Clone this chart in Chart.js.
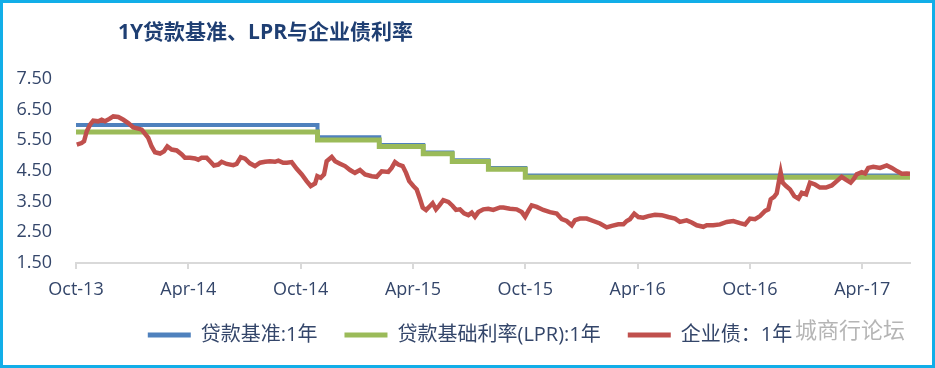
<!DOCTYPE html>
<html>
<head>
<meta charset="utf-8">
<script src="https://cdn.jsdelivr.net/npm/chart.js@4.4.1/dist/chart.umd.min.js"></script>
<style>
  html, body { margin: 0; padding: 0; background: #fff; }
  #wrap { position: relative; width: 935px; height: 368px; }
  #frame { position: absolute; left: 0; top: 0; right: 0; bottom: 0; border: 3px solid #12aee8; box-sizing: border-box; pointer-events: none; }
</style>
</head>
<body>
<div id="wrap">
  <canvas id="chart"></canvas>
  <div id="frame"></div>
</div>
<script>
// x values are months counted from the Oct-13 start of the axis
const tickLabels = ["Oct-13", "Apr-14", "Oct-14", "Apr-15", "Oct-15", "Apr-16", "Oct-16", "Apr-17"];

const stepMonths = [0, 12.9, 16.2, 18.55, 20.1, 22.03, 24.0, 44.55];
const benchmarkRate = [6.00, 5.60, 5.35, 5.10, 4.85, 4.60, 4.35, 4.35];
const lprRate = [5.77, 5.51, 5.30, 5.06, 4.81, 4.56, 4.30, 4.30];

const bondMonths = [0.04,0.30,0.43,0.57,0.75,0.92,1.19,1.37,1.55,1.78,
  1.99,2.26,2.53,2.79,3.06,3.33,3.51,3.69,3.86,4.04,
  4.22,4.49,4.70,4.88,5.11,5.38,5.65,5.82,6.09,6.36,
  6.53,6.71,6.98,7.16,7.37,7.60,7.78,8.05,8.40,8.58,
  8.80,9.03,9.29,9.56,9.83,10.10,10.36,10.63,10.81,11.07,
  11.26,11.52,11.79,12.06,12.32,12.54,12.77,12.89,13.07,13.25,
  13.39,13.66,13.84,14.10,14.37,14.64,14.90,15.17,15.44,15.80,
  16.06,16.33,16.68,16.86,17.04,17.22,17.45,17.63,17.80,18.02,
  18.20,18.38,18.52,18.70,18.91,19.05,19.23,19.41,19.62,19.89,
  20.12,20.30,20.51,20.73,20.96,21.14,21.31,21.49,21.76,22.02,
  22.29,22.65,22.83,23.18,23.54,23.81,23.99,24.16,24.34,24.61,
  24.96,25.32,25.68,25.95,26.21,26.48,26.66,26.92,27.28,27.63,
  27.99,28.35,28.62,28.97,29.24,29.42,29.59,29.82,30.04,30.30,
  30.57,30.93,31.29,31.64,32.00,32.26,32.62,32.89,33.16,33.51,
  33.69,34.04,34.40,34.76,35.11,35.47,35.74,36.00,36.27,36.54,
  36.81,36.98,37.11,37.29,37.43,37.55,37.64,37.75,37.93,38.14,
  38.37,38.59,38.77,39.00,39.21,39.48,39.74,40.06,40.37,40.64,
  40.90,41.12,41.38,41.56,41.70,41.97,42.15,42.32,42.59,42.95,
  43.31,43.58,43.87,44.11,44.38,44.55];

const bondYield = [5.36,5.41,5.47,5.79,6.01,6.14,6.12,6.17,6.12,6.20,
  6.28,6.26,6.17,6.06,5.92,5.88,5.85,5.71,5.58,5.30,
  5.11,5.07,5.14,5.30,5.20,5.17,5.04,4.93,4.93,4.91,
  4.87,4.93,4.93,4.82,4.68,4.71,4.80,4.73,4.69,4.73,
  4.95,4.90,4.75,4.66,4.77,4.80,4.82,4.80,4.84,4.77,
  4.77,4.79,4.57,4.39,4.17,4.01,4.09,4.33,4.28,4.39,
  4.82,4.96,4.82,4.74,4.66,4.53,4.44,4.53,4.39,4.33,
  4.31,4.49,4.47,4.60,4.79,4.71,4.66,4.44,4.17,4.01,
  3.90,3.58,3.31,3.23,3.36,3.45,3.25,3.38,3.55,3.49,
  3.36,3.23,3.25,3.12,3.06,3.14,3.01,3.16,3.25,3.27,
  3.23,3.31,3.31,3.27,3.25,3.16,3.01,3.20,3.38,3.33,
  3.23,3.16,3.11,2.93,2.87,2.73,2.90,2.95,2.95,2.87,
  2.79,2.66,2.71,2.76,2.76,2.87,2.93,3.11,3.00,2.98,
  3.03,3.07,3.06,3.00,2.95,2.84,2.89,2.82,2.73,2.68,
  2.73,2.73,2.76,2.84,2.87,2.80,2.76,2.95,2.93,3.03,
  3.20,3.25,3.58,3.66,3.77,4.17,4.46,4.12,4.01,3.90,
  3.68,3.60,3.79,3.74,4.12,4.06,3.96,3.96,4.03,4.17,
  4.31,4.22,4.12,4.25,4.39,4.46,4.42,4.60,4.64,4.60,
  4.68,4.60,4.49,4.41,4.42,4.41];

const textColor = "#34466a";
const fontFamily = "'Open Sans', 'Noto Sans CJK SC', sans-serif";

const toPoints = (xs, ys) => xs.map((x, i) => ({ x: x, y: ys[i] }));

// title and the watermark are drawn on the canvas as text
const extraText = {
  id: "extraText",
  afterLayout(chart) {
    // nudge the legend row to the right, like the original
    chart.legend.left += 15;
    chart.legend.right += 15;
  },
  afterDraw(chart) {
    const ctx = chart.ctx;
    ctx.save();
    ctx.fillStyle = "#1f3f73";
    ctx.font = "bold 21px " + fontFamily;
    ctx.textBaseline = "middle";
    ctx.textAlign = "left";
    ctx.fillText("1Y贷款基准、LPR与企业债利率", 118, 33);
    ctx.fillStyle = "rgba(150,150,150,0.7)";
    ctx.font = "22px 'Noto Sans CJK SC', sans-serif";
    ctx.fillText("城商行论坛", 795, 330);
    ctx.restore();
  }
};

new Chart(document.getElementById("chart"), {
  type: "line",
  data: {
    datasets: [
      {
        label: "贷款基准:1年",
        data: toPoints(stepMonths, benchmarkRate),
        borderColor: "#4f81bd",
        backgroundColor: "#4f81bd",
        borderWidth: 4,
        stepped: true,
        pointRadius: 0,
        order: 2
      },
      {
        label: "贷款基础利率(LPR):1年",
        data: toPoints(stepMonths, lprRate),
        borderColor: "#9bbb59",
        backgroundColor: "#9bbb59",
        borderWidth: 5,
        stepped: true,
        pointRadius: 0,
        order: 1
      },
      {
        label: "企业债：1年",
        data: toPoints(bondMonths, bondYield),
        borderColor: "#c0504d",
        backgroundColor: "#c0504d",
        borderWidth: 4.5,
        tension: 0,
        pointRadius: 0,
        order: 0
      }
    ]
  },
  options: {
    responsive: true,
    maintainAspectRatio: false,
    animation: false,
    events: [],
    layout: { padding: { top: 79, right: 25, bottom: 13, left: 0 } },
    scales: {
      x: {
        type: "linear",
        min: 0,
        max: 44.55,
        afterBuildTicks: (scale) => {
          scale.ticks = tickLabels.map((t, i) => ({ value: i * 6 }));
        },
        afterFit: (scale) => { scale.height = 35; },
        ticks: {
          autoSkip: false,
          maxRotation: 0,
          padding: 10,
          color: textColor,
          font: { family: fontFamily, size: 18 },
          callback: (v) => tickLabels[Math.round(v / 6)]
        },
        grid: { display: true, drawOnChartArea: false, drawTicks: true, tickLength: 6, color: "#d9d9d9", lineWidth: 2 },
        border: { display: true, color: "#d9d9d9", width: 2 }
      },
      y: {
        min: 1.5,
        max: 7.5,
        afterFit: (scale) => { scale.width = 76; },
        ticks: {
          stepSize: 1,
          padding: 24,
          color: textColor,
          font: { family: fontFamily, size: 18 },
          callback: (v) => v.toFixed(2)
        },
        grid: { display: false, drawTicks: false },
        border: { display: false }
      }
    },
    plugins: {
      title: { display: false },
      tooltip: { enabled: false },
      legend: {
        position: "bottom",
        labels: {
          boxWidth: 43,
          boxHeight: 5,
          padding: 27,
          color: textColor,
          font: { family: fontFamily, size: 20 },
          sort: (a, b) => a.datasetIndex - b.datasetIndex,
          generateLabels: (chart) =>
            Chart.defaults.plugins.legend.labels.generateLabels(chart).map((l) => Object.assign(l, { lineWidth: 0 }))
        }
      }
    }
  },
  plugins: [extraText]
});
</script>
</body>
</html>
